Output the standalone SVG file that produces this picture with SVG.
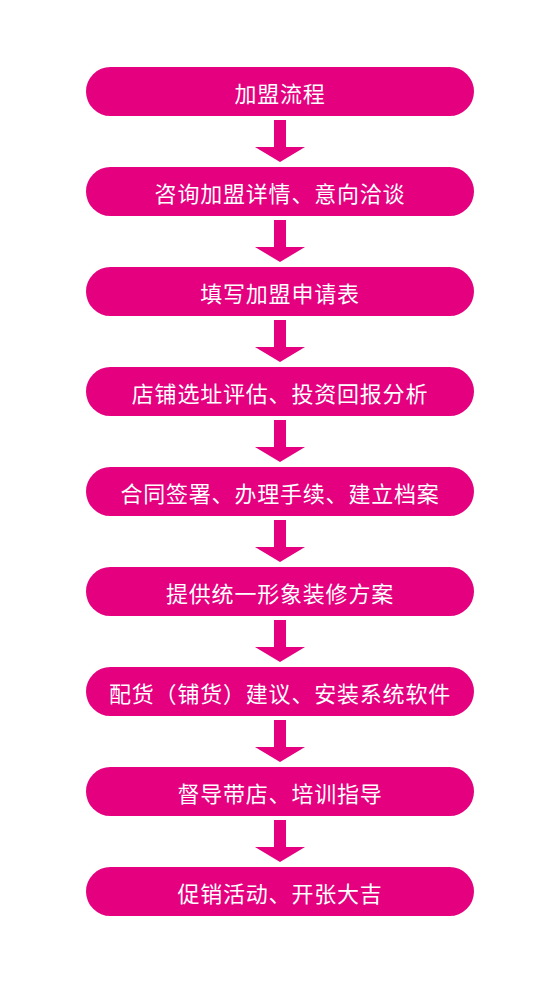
<svg xmlns="http://www.w3.org/2000/svg" width="560" height="983" viewBox="0 0 560 983">
<style>
.box{fill:#E4007F}
.lbl{fill:#FFFFFF;font-family:"Noto Sans CJK SC","Noto Sans",sans-serif;font-size:22px;letter-spacing:0.8px;text-anchor:middle;dominant-baseline:central}
.arr{fill:#E4007F}
</style>
<defs>
<path id="arrow" d="M274,0 H286 V27 H305 L280,42 L255,27 H274 Z"/>
</defs>
<rect width="560" height="983" fill="#FFFFFF"/>
<g id="connectors">
<use href="#arrow" class="arr" y="120"/>
<use href="#arrow" class="arr" y="220"/>
<use href="#arrow" class="arr" y="320"/>
<use href="#arrow" class="arr" y="420"/>
<use href="#arrow" class="arr" y="520"/>
<use href="#arrow" class="arr" y="620"/>
<use href="#arrow" class="arr" y="720"/>
<use href="#arrow" class="arr" y="820"/>
</g>
<g id="n1"><rect class="box" x="86" y="67" width="388" height="49" rx="24.5"/><text class="lbl" x="280" y="92">加盟流程</text></g>
<g id="n2"><rect class="box" x="86" y="167" width="388" height="49" rx="24.5"/><text class="lbl" x="280" y="192">咨询加盟详情、意向洽谈</text></g>
<g id="n3"><rect class="box" x="86" y="267" width="388" height="49" rx="24.5"/><text class="lbl" x="280" y="292">填写加盟申请表</text></g>
<g id="n4"><rect class="box" x="86" y="367" width="388" height="49" rx="24.5"/><text class="lbl" x="280" y="392">店铺选址评估、投资回报分析</text></g>
<g id="n5"><rect class="box" x="86" y="467" width="388" height="49" rx="24.5"/><text class="lbl" x="280" y="492">合同签署、办理手续、建立档案</text></g>
<g id="n6"><rect class="box" x="86" y="567" width="388" height="49" rx="24.5"/><text class="lbl" x="280" y="592">提供统一形象装修方案</text></g>
<g id="n7"><rect class="box" x="86" y="667" width="388" height="49" rx="24.5"/><text class="lbl" x="280" y="692">配货（铺货）建议、安装系统软件</text></g>
<g id="n8"><rect class="box" x="86" y="767" width="388" height="49" rx="24.5"/><text class="lbl" x="280" y="792">督导带店、培训指导</text></g>
<g id="n9"><rect class="box" x="86" y="867" width="388" height="49" rx="24.5"/><text class="lbl" x="280" y="892">促销活动、开张大吉</text></g>
</svg>
